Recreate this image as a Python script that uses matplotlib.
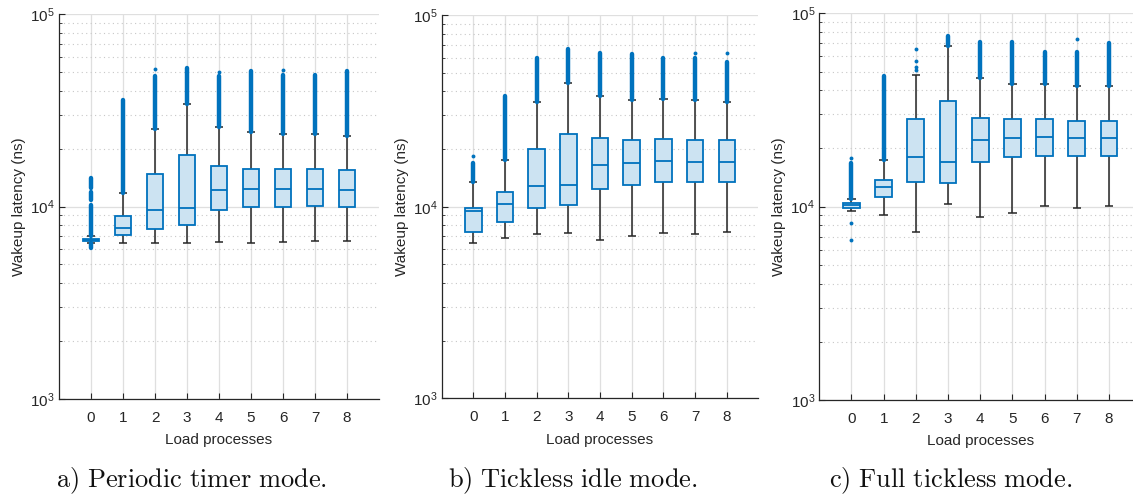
import matplotlib
matplotlib.use('Agg')
import matplotlib.pyplot as plt
from matplotlib.ticker import LogLocator, NullFormatter

plt.rcParams['font.family'] = ['Liberation Sans', 'DejaVu Sans']
plt.rcParams['mathtext.fontset'] = 'custom'
plt.rcParams['mathtext.rm'] = 'Liberation Sans'
plt.rcParams['mathtext.it'] = 'Liberation Sans:italic'

loads = [0, 1, 2, 3, 4, 5, 6, 7, 8]

# a) periodic timer mode
a_q1 = [6650, 7100, 7630, 8060, 9610, 10000, 10000, 10050, 10000]
a_med = [6720, 7745, 9610, 9845, 12110, 12320, 12320, 12320, 12250]
a_q3 = [6800, 8944, 14790, 18500, 16140, 15700, 15650, 15600, 15400]
a_wlo = [6450, 6454, 6500, 6500, 6550, 6500, 6560, 6580, 6620]
a_whi = [6985, 11740, 25270, 34000, 25900, 24270, 23800, 23700, 23320]
a_seg = [(0, 6985, 10200), (0, 10800, 11900), (0, 12500, 14000), (0, 6100, 6450),
         (1, 11740, 35600), (2, 25270, 47900), (3, 34000, 52400), (4, 25900, 47900),
         (5, 24270, 50400), (6, 23800, 48300), (7, 23700, 48200), (8, 23320, 50400)]
a_dots = [(2, 51800), (4, 49800), (6, 51400)]

# b) tickless idle mode
b_q1 = [7350, 8280, 9800, 10240, 12360, 12970, 13450, 13450, 13450]
b_med = [9530, 10290, 12820, 12970, 16560, 16830, 17300, 17170, 17100]
b_q3 = [9840, 11980, 19910, 23940, 22730, 22200, 22640, 22360, 22200]
b_wlo = [6490, 6840, 7170, 7290, 6700, 7060, 7300, 7230, 7350]
b_whi = [13410, 17520, 35000, 44340, 37930, 36000, 36300, 36000, 35300]
b_seg = [(0, 13410, 16840), (1, 17520, 37760), (2, 35000, 59800), (3, 44340, 66500),
         (4, 37930, 63100), (5, 36000, 62400), (6, 36300, 59800), (7, 36000, 59400),
         (8, 35300, 56600)]
b_dots = [(0, 18460), (7, 63000), (8, 63000)]

# c) full tickless mode
c_q1 = [9880, 11270, 13470, 13310, 17100, 18070, 18270, 18350, 18350]
c_med = [10160, 12590, 18150, 17100, 22100, 22560, 22840, 22680, 22560]
c_q3 = [10400, 13740, 28300, 35300, 28860, 28300, 28300, 27840, 27840]
c_wlo = [9500, 9060, 7370, 10280, 8810, 9310, 10080, 9880, 10080]
c_whi = [11000, 17430, 47900, 68100, 46400, 43060, 42900, 42090, 42090]
c_seg = [(0, 11000, 16880), (1, 17430, 47400), (3, 68100, 76400), (4, 46400, 71300),
         (5, 43060, 71300), (6, 42900, 63300), (7, 42090, 63300), (8, 42090, 70000)]
c_dots = [(0, 17920), (0, 8265), (0, 6730), (2, 50900), (2, 53000), (2, 56600),
          (2, 65200), (7, 73600)]

captions = ['a) Periodic timer mode.', 'b) Tickless idle mode.', 'c) Full tickless mode.']

BLUE = '#0072BD'
FILL = '#cce3f2'
DARK = '#262626'


def draw_panel(ax, q1, med, q3, wlo, whi, seg, dots):
    stats = []
    for i in range(len(loads)):
        stats.append({'q1': q1[i], 'med': med[i], 'q3': q3[i],
                      'whislo': wlo[i], 'whishi': whi[i], 'fliers': []})
    # whiskers as one line behind the box, like matlab
    ax.vlines(loads, wlo, whi, color=DARK, lw=1.1, zorder=2)
    ax.hlines(wlo, [x - 0.13 for x in loads], [x + 0.13 for x in loads], color=DARK, lw=1.1, zorder=2)
    ax.hlines(whi, [x - 0.13 for x in loads], [x + 0.13 for x in loads], color=DARK, lw=1.1, zorder=2)
    ax.bxp(stats, positions=loads, widths=0.52, patch_artist=True, showfliers=False,
           showcaps=False,
           boxprops=dict(facecolor=FILL, edgecolor=BLUE, lw=1.3),
           whiskerprops=dict(lw=0),
           medianprops=dict(color=BLUE, lw=1.3), zorder=3)
    xs = [s[0] for s in seg]
    lo = [s[1] for s in seg]
    hi = [s[2] for s in seg]
    lc = ax.vlines(xs, lo, hi, color=BLUE, lw=3.2, zorder=4)
    lc.set_capstyle('round')
    ax.plot([d[0] for d in dots], [d[1] for d in dots], 'o', color=BLUE, ms=2.8,
            mew=0, zorder=4)

    ax.set_yscale('log')
    ax.set_ylim(1e3, 1e5)
    ax.set_xlim(-1, 9)
    ax.set_xticks(loads)
    ax.yaxis.set_major_locator(LogLocator(base=10, numticks=5))
    ax.yaxis.set_minor_locator(LogLocator(base=10, subs=range(2, 10), numticks=20))
    ax.yaxis.set_minor_formatter(NullFormatter())
    ax.grid(True, which='major', color='#dfdfdf', lw=0.9, zorder=0)
    ax.grid(True, which='minor', axis='y', color='#c8c8c8', lw=0.8, ls=(0, (1, 3)), zorder=0)
    ax.set_axisbelow(True)
    for s in ['top', 'right']:
        ax.spines[s].set_visible(False)
    for s in ['left', 'bottom']:
        ax.spines[s].set_color(DARK)
        ax.spines[s].set_linewidth(0.9)
    ax.tick_params(which='major', direction='in', length=4, width=0.8, color=DARK,
                   labelsize=11, labelcolor=DARK)
    ax.tick_params(which='minor', direction='in', length=2.5, width=0.6, color=DARK)
    ax.tick_params(axis='x', pad=8.5)
    ax.tick_params(axis='y', pad=3)
    ax.set_xlabel('Load processes', fontsize=11, color=DARK, labelpad=6)
    ax.set_ylabel('Wakeup latency (ns)', fontsize=11, color=DARK, labelpad=3)


fig = plt.figure(figsize=(11.33, 4.97), dpi=100)
ax_a = fig.add_axes([0.0521, 0.1972, 0.2824, 0.7746])
ax_b = fig.add_axes([0.3898, 0.1984, 0.2796, 0.7714])
ax_c = fig.add_axes([0.7231, 0.1952, 0.2842, 0.778])

draw_panel(ax_a, a_q1, a_med, a_q3, a_wlo, a_whi, a_seg, a_dots)
draw_panel(ax_b, b_q1, b_med, b_q3, b_wlo, b_whi, b_seg, b_dots)
draw_panel(ax_c, c_q1, c_med, c_q3, c_wlo, c_whi, c_seg, c_dots)

for xc, cap in zip([0.1686, 0.5057, 0.8394], captions):
    txt = r'$\mathrm{' + cap.replace(' ', r'\ ') + '}$'
    fig.text(xc, 0.032, txt, ha='center', va='center', fontsize=19,
             math_fontfamily='cm', color='#111111')

fig.savefig('out.png', dpi=100)
